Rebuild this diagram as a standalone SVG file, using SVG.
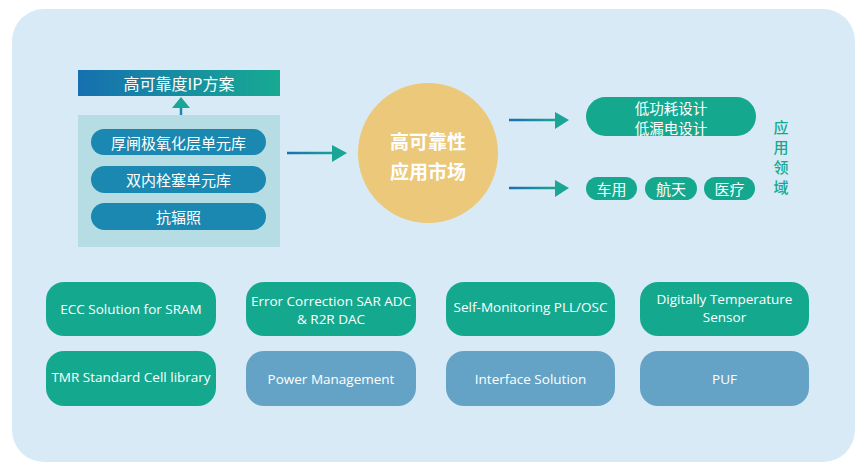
<svg xmlns="http://www.w3.org/2000/svg" width="865" height="473" viewBox="0 0 865 473">
<defs>
<linearGradient id="gTitle" x1="0" y1="0" x2="1" y2="0">
<stop offset="0" stop-color="#1670b0"/>
<stop offset="1" stop-color="#17aa92"/>
</linearGradient>
<linearGradient id="gL1" gradientUnits="userSpaceOnUse" x1="287" y1="0" x2="335" y2="0">
<stop offset="0" stop-color="#1a6fb0"/><stop offset="1" stop-color="#1aa595"/>
</linearGradient>
<linearGradient id="gL2" gradientUnits="userSpaceOnUse" x1="509" y1="0" x2="557" y2="0">
<stop offset="0" stop-color="#1a6fb0"/><stop offset="1" stop-color="#1aa595"/>
</linearGradient>
</defs>
<style>
.zh{font-family:"Noto Sans CJK SC","Noto Sans",sans-serif;fill:#fff;text-anchor:middle;dominant-baseline:central}
.en{font-family:"Open Sans","Noto Sans",sans-serif;fill:#fff;text-anchor:middle;dominant-baseline:central;font-size:13.5px}
.green{fill:#14a98f}
.blue{fill:#64a3c6}
.pill{fill:#1a88b0}
.head{fill:#1aa595}
</style>
<rect x="0" y="0" width="865" height="473" fill="#ffffff"/>
<rect x="12" y="9" width="843" height="453" rx="32" fill="#d9eaf7"/>

<g id="title">
<rect x="78" y="70" width="202" height="26" fill="url(#gTitle)"/>
<text class="zh" x="179" y="83" font-size="16">高可靠度IP方案</text>
</g>

<g id="ipbox">
<rect x="78" y="115" width="202" height="132" fill="#b6dce4"/>
<g id="pill1"><rect class="pill" x="91" y="129" width="175" height="26" rx="13"/><text class="zh" x="178.5" y="142" font-size="15">厚闸极氧化层单元库</text></g>
<g id="pill2"><rect class="pill" x="91" y="166" width="175" height="27" rx="13.5"/><text class="zh" x="178.5" y="179.5" font-size="15">双内栓塞单元库</text></g>
<g id="pill3"><rect class="pill" x="91" y="203" width="175" height="27" rx="13.5"/><text class="zh" x="178.5" y="216.5" font-size="15">抗辐照</text></g>
</g>

<g id="market">
<circle cx="428" cy="153" r="70" fill="#ecc87a"/>
<text class="zh" x="428" y="140" font-size="19" font-weight="bold">高可靠性</text>
<text class="zh" x="428" y="170" font-size="19" font-weight="bold">应用市场</text>
</g>

<g id="design">
<rect class="green" x="586" y="97" width="170" height="39" rx="19.5"/>
<text class="zh" x="671" y="107" font-size="14.5">低功耗设计</text>
<text class="zh" x="671" y="127" font-size="14.5">低漏电设计</text>
</g>
<g id="car"><rect class="green" x="586" y="177" width="51" height="23" rx="11.5"/><text class="zh" x="611.5" y="188.5" font-size="15">车用</text></g>
<g id="aero"><rect class="green" x="645" y="177" width="52" height="23" rx="11.5"/><text class="zh" x="671" y="188.5" font-size="15">航天</text></g>
<g id="med"><rect class="green" x="704" y="177" width="51" height="23" rx="11.5"/><text class="zh" x="729.5" y="188.5" font-size="15">医疗</text></g>

<g id="field" font-family="Noto Sans CJK SC,sans-serif" font-size="15" font-weight="500" fill="#14a98f" text-anchor="middle" dominant-baseline="central">
<text x="781" y="126">应</text>
<text x="781" y="146">用</text>
<text x="781" y="166">领</text>
<text x="781" y="186">域</text>
</g>

<g id="connectors">
<line x1="181" y1="115" x2="181" y2="106" stroke="#1a88b0" stroke-width="2.5"/>
<polygon class="head" points="172,108 190,108 181,97"/>
<line x1="287" y1="153" x2="334" y2="153" stroke="url(#gL1)" stroke-width="2.5"/>
<polygon class="head" points="332,145 347,153 332,162"/>
<line x1="509" y1="120" x2="556" y2="120" stroke="url(#gL2)" stroke-width="2.5"/>
<polygon class="head" points="555,112 569,120 555,129"/>
<line x1="509" y1="188" x2="556" y2="188" stroke="url(#gL2)" stroke-width="2.5"/>
<polygon class="head" points="555,180 569,188 555,197"/>
</g>

<g id="ecc"><rect class="green" x="46" y="282" width="170" height="54" rx="18"/><text class="en" x="131" y="309">ECC Solution for SRAM</text></g>
<g id="adc"><rect class="green" x="246" y="282" width="170" height="54" rx="18"/><text class="en" x="331" y="301">Error Correction SAR ADC</text><text class="en" x="331" y="319">&amp; R2R DAC</text></g>
<g id="pll"><rect class="green" x="446" y="282" width="169" height="54" rx="18"/><text class="en" x="530.5" y="307">Self-Monitoring PLL/OSC</text></g>
<g id="temp"><rect class="green" x="640" y="282" width="169" height="54" rx="18"/><text class="en" x="724.5" y="299">Digitally Temperature</text><text class="en" x="724.5" y="317">Sensor</text></g>
<g id="tmr"><rect class="green" x="46" y="351" width="170" height="55" rx="18"/><text class="en" x="131" y="377">TMR Standard Cell library</text></g>
<g id="power"><rect class="blue" x="246" y="351" width="170" height="55" rx="18"/><text class="en" x="331" y="379">Power Management</text></g>
<g id="iface"><rect class="blue" x="446" y="351" width="169" height="55" rx="18"/><text class="en" x="530.5" y="379">Interface Solution</text></g>
<g id="puf"><rect class="blue" x="640" y="351" width="169" height="55" rx="18"/><text class="en" x="724.5" y="379">PUF</text></g>
</svg>
